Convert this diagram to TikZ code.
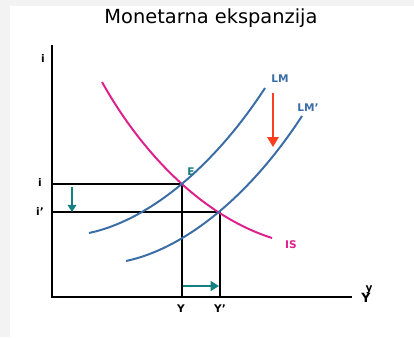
\documentclass[tikz,border=0pt]{standalone}
\usepackage{fontspec}
\setmainfont{DejaVu Sans}
\usetikzlibrary{arrows.meta}
\definecolor{lmblue}{RGB}{58,108,165}
\definecolor{ismag}{RGB}{222,32,140}
\definecolor{shiftteal}{RGB}{22,128,128}
\definecolor{shiftred}{RGB}{250,62,30}
\definecolor{pagegray}{RGB}{243,243,243}

\begin{document}
\begin{tikzpicture}[x=0.025cm, y=-0.025cm,
    lbl/.style={font=\fontsize{7.5}{8}\selectfont\bfseries, inner sep=0pt},
    guide/.style={black, line width=0.9pt},
    curve/.style={line width=1.4pt}]
            \fill[pagegray] (0,0) rectangle (414,337);
            \fill[white] (10,6) rectangle (414,337);
            \useasboundingbox (0,0) rectangle (414,337);

            \node (title) at (211,18) {\fontsize{13.8}{15}\selectfont Monetarna ekspanzija};

            \coordinate (O) at (52,297);
            \coordinate (top) at (52,45);
            \coordinate (right) at (352,297);
            \coordinate (E) at (182,184);
            \coordinate (F) at (220,212);

            % axes
            \draw[line width=1.3pt] (top) -- (O) -- (right);
            \node[lbl] (ilab) at (43,58) {i};
            \node[lbl] (ylab) at (369,290) {y};
            \node[lbl, font=\fontsize{9}{10}\selectfont\bfseries] (Ylab) at (366,298) {Y};

            % guides
            \draw[guide] (E -| O) -- (E) -- (E |- O);
            \draw[guide] (F -| O) -- (F) -- (F |- O);
            \node[lbl] (i1) at (40,182) {i};
            \node[lbl] (i2) at (40,211) {i'};
            \node[lbl] (y1) at (181,309) {Y};
            \node[lbl] (y2) at (220,309) {Y'};

            % curves
            \draw[curve, ismag] (102,82) .. controls (140,150) and (200,215) .. (272,238);
            \draw[curve, lmblue] (89,233) .. controls (150,220) and (215,165) .. (265,88);
            \draw[curve, lmblue] (126,261) .. controls (187,248) and (252,193) .. (302,116);
            \node[lbl, lmblue] (lm) at (280,79) {LM};
            \node[lbl, lmblue] (lm2) at (308,108) {LM'};
            \node[lbl, ismag] (is) at (291,245) {IS};
            \node[lbl, shiftteal] (elab) at (191,172) {E};

            % shifts
            \draw[-{Triangle[width=8pt, length=7pt]}, shiftred, line width=1.4pt] (273,93) -- (273,147);
            \draw[-{Triangle[width=6pt, length=5pt]}, shiftteal, line width=1.2pt] (72,187) -- (72,212);
            \draw[-{Triangle[width=7pt, length=6pt]}, shiftteal, line width=2pt] (183,286) -- (219,286);
        \end{tikzpicture}
\end{document}
